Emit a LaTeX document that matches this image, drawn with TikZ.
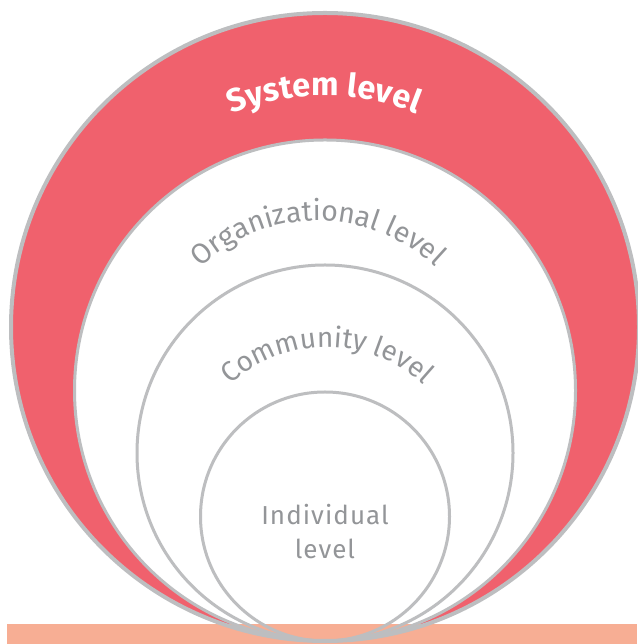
\documentclass[tikz,border=0pt]{standalone}
\usepackage{fontspec}
\setmainfont{Fira Sans}
\newfontfamily\widelabel[LetterSpace=4]{Fira Sans}
\usetikzlibrary{decorations.text}

\definecolor{systemred}{HTML}{F0616D}
\definecolor{ringgray}{HTML}{BDBEC0}
\definecolor{labelgray}{HTML}{939598}
\definecolor{groundpeach}{HTML}{F7AE94}

\begin{document}
\begin{tikzpicture}[x=1pt,y=1pt,
        ring line/.style={draw=ringgray,line width=3pt},
        arc label/.style={decorate,decoration={text along path,text align=center,text color=#1}}]

    \useasboundingbox (0,0) rectangle (637,644);

    % centres of the four levels, all touching at the bottom
    \coordinate (sys) at (325,317);
    \coordinate (org) at (325,253.5);
    \coordinate (com) at (325,191);
    \coordinate (ind) at (325,127.5);

    \fill[systemred] (sys) circle (314);
    \fill[white] (org) circle (250.5);
    \fill[groundpeach] (7,0) rectangle (637,20);

    \draw[ring line,line width=4pt] (sys) circle (314);
    \draw[ring line] (org) circle (250.5);
    \draw[ring line] (com) circle (188);
    \draw[ring line] (ind) circle (124.5);

    % curved labels
    \path[arc label=white,decoration={text={|\fontsize{32.5}{38}\selectfont\bfseries|System level}}]
        (324,301) ++(160:247) arc[start angle=160,end angle=20,radius=247];
    \path[arc label=labelgray,decoration={text={|\fontsize{28.5}{34}\selectfont|Organizational level}}]
        (318,253.5) ++(150:170) arc[start angle=150,end angle=30,radius=170];
    \path[arc label=labelgray,decoration={text={|\fontsize{28}{34}\selectfont|Community level}}]
        (327,155) ++(150:142) arc[start angle=150,end angle=30,radius=142];

    \node[text=labelgray,font=\widelabel\fontsize{26}{34}\selectfont,align=center] (indlabel) at (325,112) {Individual\\level};

\end{tikzpicture}
\end{document}
